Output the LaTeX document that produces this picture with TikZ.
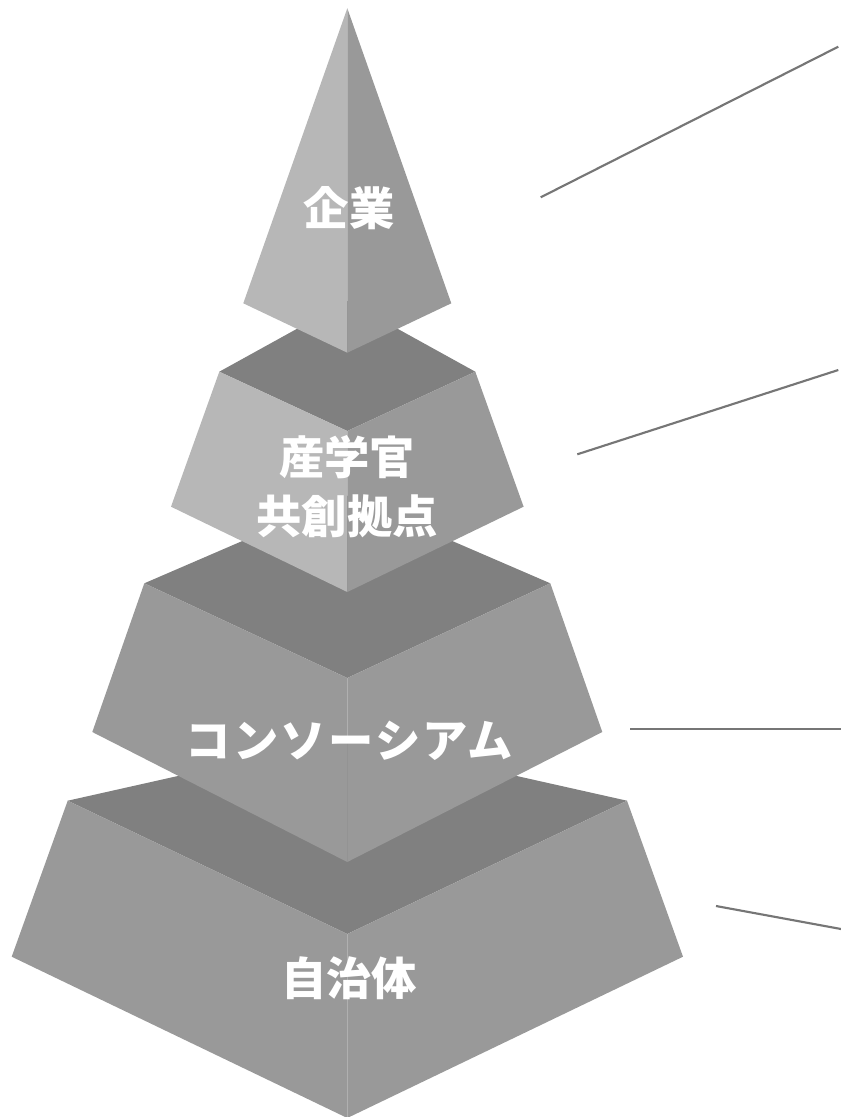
\documentclass[tikz,border=0pt]{standalone}
\usepackage{fontspec}
\newfontfamily\jpfont{Noto Sans CJK JP}
\newfontfamily\jpwide{Noto Sans CJK JP}[LetterSpace=5.0]
\usepackage{tikz}
\definecolor{faceL}{RGB}{183,183,183}
\definecolor{faceR}{RGB}{153,153,153}
\definecolor{faceT}{RGB}{128,128,128}
\definecolor{leaderG}{RGB}{118,118,118}

\begin{document}
\begin{tikzpicture}[x=0.75pt,y=-0.75pt]
  \tikzstyle{lite}=[fill=faceL]
  \tikzstyle{dark}=[fill=faceR]
  \tikzstyle{topface}=[fill=faceT]
  \tikzstyle{tier}=[text=white,align=center,inner sep=0pt,
                    font=\jpfont\bfseries\fontsize{34}{44}\selectfont]
  \tikzstyle{leader}=[draw=leaderG,line width=1.6pt]

  \useasboundingbox (0,0) rectangle (841,1117);

  \fill[topface] (67.7,800.7) -- (347.3,738) -- (627,800.7) -- (347.3,934) -- cycle;
  \fill[dark] (67.7,800.7) -- (347.3,934) -- (347.3,1118) -- (11.7,956.7) -- cycle;
  \fill[dark] (627,800.7) -- (347.3,934) -- (347.3,1118) -- (683,956.7) -- cycle;

  \fill[topface] (144.3,583.3) -- (347.3,495.7) -- (550.3,583.3) -- (347.3,678) -- cycle;
  \fill[dark] (144.3,583.3) -- (347.3,678) -- (347.3,862) -- (92.3,732) -- cycle;
  \fill[dark] (550.3,583.3) -- (347.3,678) -- (347.3,862) -- (602.3,732) -- cycle;

  \fill[topface] (219.3,371.7) -- (347.3,301) -- (475.3,371.7) -- (347.3,431) -- cycle;
  \fill[lite] (219.3,371.7) -- (347.3,431) -- (347.3,592) -- (171,506.7) -- cycle;
  \fill[dark] (475.3,371.7) -- (347.3,431) -- (347.3,592) -- (523.6,506.7) -- cycle;

  \fill[lite] (347.3,8.3) -- (243.3,303.3) -- (347.3,352.7) -- cycle;
  \fill[dark] (347.3,8.3) -- (451.3,303.3) -- (347.3,352.7) -- cycle;

  \node[tier] (kigyo) at (349,208) {企業};
  \node[tier] (sangaku) at (347,487) {産学官\\共創拠点};
  \node[tier,font=\jpwide\bfseries\fontsize{34}{44}\selectfont] (consortium) at (349,741) {コンソーシアム};
  \node[tier] (jichitai) at (349,978) {自治体};

  \coordinate (k1) at (540.7,197.3);
  \coordinate (k2) at (838.3,46.7);
  \coordinate (s1) at (577.3,454.3);
  \coordinate (s2) at (838.3,370);
  \coordinate (c1) at (630,729);
  \coordinate (c2) at (841,729);
  \coordinate (j1) at (716,906);
  \coordinate (j2) at (841,929);

  \draw[leader] (k1) -- (k2);
  \draw[leader] (s1) -- (s2);
  \draw[leader] (c1) -- (c2);
  \draw[leader] (j1) -- (j2);
\end{tikzpicture}
\end{document}
